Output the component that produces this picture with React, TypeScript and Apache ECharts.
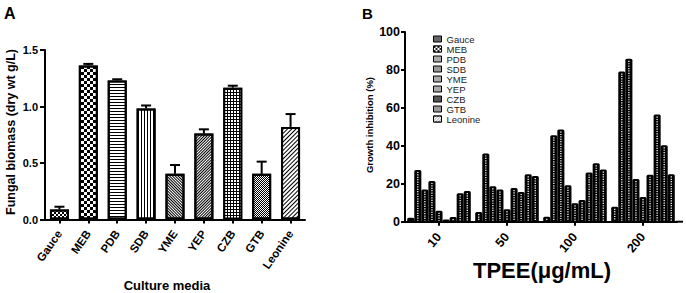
import React, { useEffect, useRef } from 'react';
import * as echarts from 'echarts';

// ---------- data ----------
const mediaCategories = ['Gauce', 'MEB', 'PDB', 'SDB', 'YME', 'YEP', 'CZB', 'GTB', 'Leonine'];
const biomassValues = [0.088, 1.363, 1.231, 0.982, 0.404, 0.76, 1.167, 0.404, 0.819];
const biomassErrors = [0.025, 0.014, 0.01, 0.027, 0.078, 0.038, 0.017, 0.108, 0.114];
const biomassAxis = { min: 0, max: 1.5, interval: 0.5 };

const tpeeCategories = ['10', '50', '100', '200'];
const gauceInhibition = [2.1, 5.1, 2.6, 7.9];
const mebInhibition = [27.3, 36, 45.6, 79.2];
const pdbInhibition = [17, 18.7, 48.6, 85.9];
const sdbInhibition = [21.5, 17, 19.2, 22.5];
const ymeInhibition = [5.8, 6.5, 9.7, 13];
const yepInhibition = [1.2, 17.8, 11.4, 24.8];
const czbInhibition = [2.5, 15.7, 26, 56.5];
const gtbInhibition = [15, 25, 30.8, 40.3];
const leonineInhibition = [16.2, 24.1, 27.5, 25];
const inhibitionSeries = [
  gauceInhibition, mebInhibition, pdbInhibition, sdbInhibition, ymeInhibition,
  yepInhibition, czbInhibition, gtbInhibition, leonineInhibition,
];
const inhibitionAxis = { min: 0, max: 100, interval: 20 };

// ---------- styles ----------
const FONT = 'Arial, "Liberation Sans", Helvetica, sans-serif';

const barFills = ['#fff', '#fff', '#fff', '#fff', '#fff', '#fff', '#000', '#fff', '#fff'];
const barDecals: any[] = [
  { symbol: 'rect', symbolKeepAspect: false, color: '#000', dashArrayX: [[2, 2], [0, 2, 2, 0]], dashArrayY: [2, 0] },
  { symbol: 'rect', symbolKeepAspect: false, color: '#000', dashArrayX: [[3, 3], [0, 3, 3, 0]], dashArrayY: [3, 0] },
  { symbol: 'rect', symbolKeepAspect: false, color: '#000', dashArrayX: [[4, 0]], dashArrayY: [1, 2] },
  { symbol: 'rect', symbolKeepAspect: false, color: '#000', dashArrayX: [[1, 2]], dashArrayY: [4, 0] },
  { symbol: 'rect', symbolKeepAspect: false, color: '#000', dashArrayX: [[4, 0]], dashArrayY: [1, 1], rotation: Math.PI / 4 },
  { symbol: 'rect', symbolKeepAspect: false, color: '#000', dashArrayX: [[4, 0]], dashArrayY: [1, 1], rotation: -Math.PI / 4 },
  { symbol: 'rect', symbolKeepAspect: false, color: '#fff', dashArrayX: [[2, 1]], dashArrayY: [2, 1] },
  { symbol: 'rect', symbolKeepAspect: false, color: '#000', dashArrayX: [[1, 1], [0, 1, 1, 0]], dashArrayY: [1, 0] },
  { symbol: 'rect', symbolKeepAspect: false, color: '#000', dashArrayX: [[4, 0]], dashArrayY: [1, 2], rotation: -Math.PI / 4 },
];

const legendFills = ['#666', '#222', '#aaa', '#999', '#aaa', '#aaa', '#555', '#999', '#bbb'];
const legendDecals: any[] = [
  null,
  { symbol: 'rect', symbolKeepAspect: false, color: '#fff', dashArrayX: [[2, 2], [0, 2, 2, 0]], dashArrayY: [2, 0] },
  null, null, null, null, null, null,
  { symbol: 'rect', symbolKeepAspect: false, color: '#fff', dashArrayX: [[4, 0]], dashArrayY: [1, 1], rotation: -Math.PI / 4 },
];

const axisLine = { show: true, lineStyle: { color: '#000', width: 2 } };
const axisTick = { show: true, length: 4, lineStyle: { color: '#000', width: 2 } };

function makeInhibitionRender(k: number) {
  return (_params: any, api: any) => {
    const ci = api.value(0);
    const v = api.value(1);
    const band = api.size([1, 0])[0];
    const groupW = band * 0.935;
    const bw = groupW / 9;
    const top = api.coord([ci, v]);
    const base = api.coord([ci, 0]);
    const x = top[0] - groupW / 2 + k * bw;
    const h = base[1] - top[1];
    const children: any[] = [
      {
        type: 'rect',
        shape: { x, y: top[1], width: bw, height: h, r: [1.5, 1.5, 0, 0] },
        style: { fill: '#000' },
      },
    ];
    if (h > 4) {
      children.push({
        type: 'line',
        shape: { x1: x + bw / 2, y1: top[1] + 2, x2: x + bw / 2, y2: base[1] - 1 },
        style: { stroke: '#fff', lineWidth: 1.3, lineDash: [1.2, 1.2] },
      });
    }
    return { type: 'group', children };
  };
}

export default function App() {
  const ref = useRef<HTMLDivElement>(null);

  useEffect(() => {
    if (!ref.current) return;
    const chart = echarts.init(ref.current, undefined, { renderer: 'svg' });

    const option: any = {
      animation: false,
      backgroundColor: '#fff',
      textStyle: { fontFamily: FONT },
      grid: [
        { left: 45, top: 50, width: 260, height: 169.5 },
        { left: 405, top: 32, width: 272, height: 189.7 },
      ],
      legend: {
        orient: 'vertical',
        left: 433,
        top: 34,
        itemWidth: 8,
        itemHeight: 6,
        itemGap: 0,
        padding: 0,
        icon: 'rect',
        selectedMode: false,
        textStyle: { fontSize: 9.5, color: '#222', fontFamily: FONT, lineHeight: 9 },
        data: mediaCategories.map((n, i) => ({
          name: n,
          itemStyle: {
            color: legendFills[i],
            borderColor: '#000',
            borderWidth: 1,
            ...(legendDecals[i] ? { decal: legendDecals[i] } : {}),
          },
        })),
      },
      xAxis: [
        {
          type: 'category',
          gridIndex: 0,
          data: mediaCategories,
          axisLine,
          axisTick: { ...axisTick, alignWithLabel: true },
          axisLabel: {
            rotate: 55, margin: 12, interval: 0, fontSize: 11.5, fontWeight: 'bold',
            color: '#000', fontFamily: FONT,
          },
          splitLine: { show: false },
        },
        {
          type: 'category',
          gridIndex: 1,
          data: tpeeCategories,
          axisLine,
          axisTick: { ...axisTick, alignWithLabel: true },
          axisLabel: {
            rotate: 50, margin: 13, interval: 0, fontSize: 12.5, fontWeight: 'bold',
            color: '#000', fontFamily: FONT,
          },
          splitLine: { show: false },
        },
      ],
      yAxis: [
        {
          type: 'value',
          gridIndex: 0,
          min: biomassAxis.min,
          max: biomassAxis.max,
          interval: biomassAxis.interval,
          axisLine,
          axisTick: { ...axisTick, length: 5 },
          splitLine: { show: false },
          axisLabel: {
            margin: 7, fontSize: 11, fontWeight: 'bold', color: '#000', fontFamily: FONT,
            formatter: (v: number) => v.toFixed(1),
          },
        },
        {
          type: 'value',
          gridIndex: 1,
          min: inhibitionAxis.min,
          max: inhibitionAxis.max,
          interval: inhibitionAxis.interval,
          axisLine,
          axisTick: { ...axisTick, length: 4 },
          splitLine: { show: false },
          axisLabel: {
            margin: 5, fontSize: 12.5, fontWeight: 'bold', color: '#000', fontFamily: FONT,
          },
        },
      ],
      series: [
        {
          name: 'Fungal biomass',
          type: 'bar',
          xAxisIndex: 0,
          yAxisIndex: 0,
          barWidth: 19,
          silent: true,
          itemStyle: { borderColor: '#000', borderWidth: 2 },
          data: biomassValues.map((v, i) => ({
            value: v,
            itemStyle: { color: barFills[i], decal: barDecals[i] },
          })),
          z: 2,
        },
        {
          name: 'Biomass error',
          type: 'custom',
          xAxisIndex: 0,
          yAxisIndex: 0,
          silent: true,
          z: 3,
          encode: { x: 0, y: 1 },
          data: biomassValues.map((v, i) => [i, v, biomassErrors[i]]),
          renderItem: (_p: any, api: any) => {
            const i = api.value(0);
            const v = api.value(1);
            const e = api.value(2);
            const top = api.coord([i, v + e]);
            const base = api.coord([i, v]);
            return {
              type: 'group',
              children: [
                { type: 'line', shape: { x1: top[0], y1: base[1], x2: top[0], y2: top[1] }, style: { stroke: '#000', lineWidth: 2 } },
                { type: 'line', shape: { x1: top[0] - 5, y1: top[1], x2: top[0] + 5, y2: top[1] }, style: { stroke: '#000', lineWidth: 2 } },
              ],
            };
          },
        },
        ...mediaCategories.map((name, k) => ({
          name,
          type: 'custom',
          xAxisIndex: 1,
          yAxisIndex: 1,
          silent: true,
          itemStyle: { color: legendFills[k], borderColor: '#000', borderWidth: 1 },
          encode: { x: 0, y: 1 },
          data: inhibitionSeries[k].map((v, ci) => [ci, v]),
          renderItem: makeInhibitionRender(k),
        })),
      ],
      graphic: [
        { type: 'text', left: 4, top: 5, style: { text: 'A', fontSize: 16, fontWeight: 'bold', fontFamily: FONT, fill: '#000' } },
        { type: 'text', left: 362, top: 6, style: { text: 'B', fontSize: 15, fontWeight: 'bold', fontFamily: FONT, fill: '#000' } },
        {
          type: 'text', x: 11, y: 132, rotation: Math.PI / 2,
          style: { text: 'Fungal biomass (dry wt g/L)', fontSize: 12.5, fontWeight: 'bold', fontFamily: FONT, fill: '#000', align: 'center', verticalAlign: 'middle' },
        },
        {
          type: 'text', x: 167, y: 285,
          style: { text: 'Culture media', fontSize: 13, fontWeight: 'bold', fontFamily: FONT, fill: '#000', align: 'center', verticalAlign: 'middle' },
        },
        {
          type: 'text', x: 369, y: 125, rotation: Math.PI / 2,
          style: { text: 'Growth inhibition (%)', fontSize: 9.5, fontWeight: 'bold', fontFamily: FONT, fill: '#000', align: 'center', verticalAlign: 'middle' },
        },
        {
          type: 'text', x: 542, y: 270,
          style: { text: 'TPEE(μg/mL)', fontSize: 22, fontWeight: 'bold', fontFamily: FONT, fill: '#000', align: 'center', verticalAlign: 'middle' },
        },
        {
          type: 'line', shape: { x1: 676, y1: 221.7, x2: 683, y2: 221.7 },
          style: { stroke: '#000', lineWidth: 2 },
        },
      ],
    };

    chart.setOption(option);
    return () => chart.dispose();
  }, []);

  return (
    <div
      ref={ref}
      style={{ position: 'absolute', left: 0, top: 0, width: 686, height: 293, background: '#fff' }}
    />
  );
}
